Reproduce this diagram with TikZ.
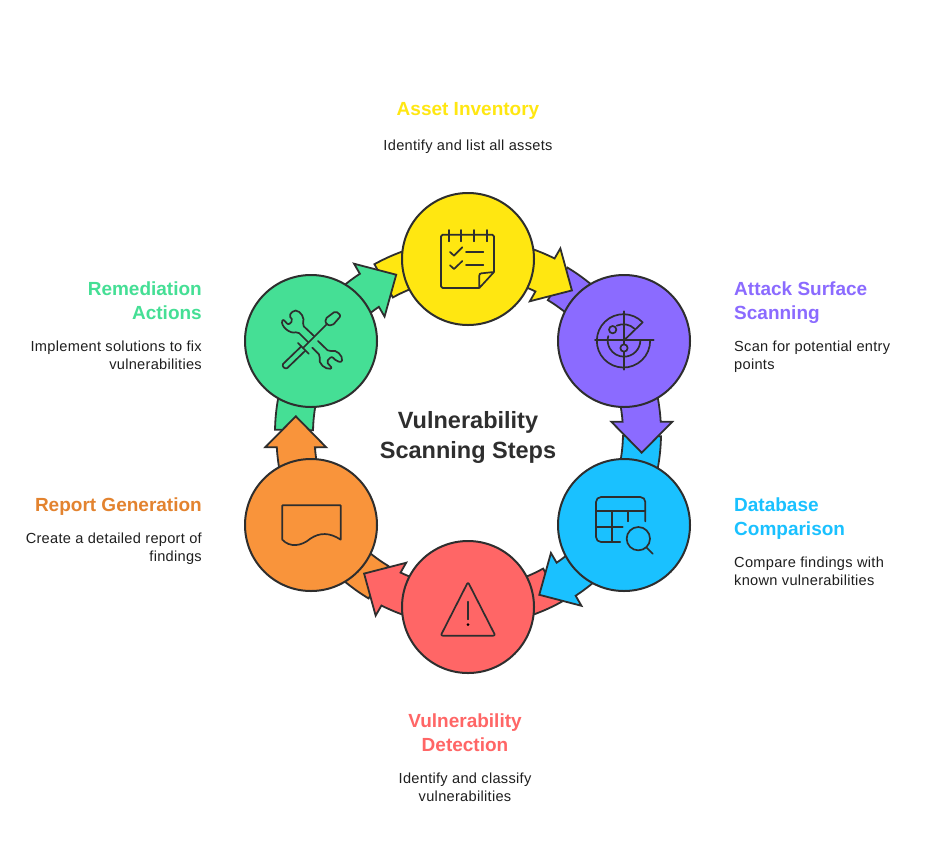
\documentclass[tikz,border=0pt]{standalone}
\usepackage{fontspec}
\setmainfont{Liberation Sans}
\newfontfamily\bodyface[LetterSpace=2]{Liberation Sans}
\definecolor{stroke}{HTML}{2E2E2E}
\definecolor{cyellow}{HTML}{FFE711}
\definecolor{cpurple}{HTML}{8B6BFF}
\definecolor{cblue}{HTML}{1AC1FF}
\definecolor{cred}{HTML}{FF6666}
\definecolor{corange}{HTML}{F9943B}
\definecolor{cgreen}{HTML}{45DF95}
\definecolor{torange}{HTML}{E3832F}
\definecolor{ttext}{HTML}{1F1F1F}
\tikzset{
  stepdisc/.style={circle,draw=stroke,line width=2pt,minimum size=132pt,inner sep=0pt,outer sep=0pt},
  shapeline/.style={draw=stroke,line width=1.8pt,line join=miter},
  iconline/.style={draw=stroke,line width=1.7pt,line cap=round,line join=round},
  headtext/.style={font=\bfseries\fontsize{19}{24}\selectfont,inner sep=0pt,anchor=north},
  bodytext/.style={font=\bodyface\fontsize{14.6}{18}\selectfont,text=ttext,inner sep=0pt,anchor=north},
  iconframe/.style={scale=1/3},
}
\newcommand{\ringband}[2]{%
  \filldraw[shapeline,fill=#1]
    ([shift={(ring)}]#2-29:193) arc[start angle=#2-29,end angle=#2,radius=193]
    -- ([shift={(ring)}]#2:155) arc[start angle=#2,end angle=#2-29,radius=155] -- cycle;}
\newcommand{\ringarrow}[3]{%
  \begin{scope}[rotate around={-#2:(ring)},shift={(#3)}]
  \filldraw[shapeline,fill=#1]
    ([shift={(ring)}]-20:155) arc[start angle=-20,end angle=-4.2,radius=155]
    -- (611.3,421.7) -- (641.7,452.7) -- (672.3,421.7) -- (660.7,421.7)
    arc[start angle=-3.4,end angle=-20,radius=193] -- cycle;
  \end{scope}}
\newcommand{\firstline}{\rule{0pt}{15pt}}
\newcommand{\firstbody}{\rule{0pt}{12pt}}
\begin{document}
\begin{tikzpicture}[x=1pt,y=-1pt]
\useasboundingbox (0,0) rectangle (936,841);
\fill[white] (0,0) rectangle (936,841);
\coordinate (ring) at (468,433);
% tails of the ring
\ringband{cpurple}{-30}
\ringband{cblue}{30}
\ringband{cred}{90}
\ringband{corange}{150}
\ringband{cgreen}{210}
\ringband{cyellow}{270}
% arrows
\ringarrow{cpurple}{0}{0,0}
\ringarrow{cblue}{60}{2.05,-0.55}
\ringarrow{cred}{120}{0,0}
\ringarrow{corange}{180}{-1.5,-3}
\ringarrow{cgreen}{240}{-0.73,-2.73}
\ringarrow{cyellow}{300}{1.73,-1}
% discs
\node[stepdisc,fill=cyellow] (asset) at (468,259) {};
\node[stepdisc,fill=cpurple] (attack) at (624,341) {};
\node[stepdisc,fill=cblue] (database) at (624,525) {};
\node[stepdisc,fill=cred] (detect) at (468,607) {};
\node[stepdisc,fill=corange] (report) at (311,525) {};
\node[stepdisc,fill=cgreen] (remedy) at (311,341) {};
% calendar icon
\begin{scope}[shift={(430,222)},iconframe]
  \draw[iconline] (148,198) -- (38,198) arc[start angle=90,end angle=180,radius=5] -- (33,43) arc[start angle=180,end angle=270,radius=5] -- (187,38) arc[start angle=270,end angle=360,radius=5] -- (192,150) -- (148,198) -- (148,160) arc[start angle=180,end angle=270,radius=6] -- (192,150);
  \foreach \x in {56,94,132,170} \draw[iconline] (\x,24) -- (\x,58);
  \draw[iconline] (60,90) -- (72,101) -- (97,76);
  \draw[iconline] (60,130) -- (72,141) -- (97,117);
  \draw[iconline] (108,91) -- (160,91);
  \draw[iconline] (108,128) -- (160,128);
\end{scope}
% radar icon
\begin{scope}[shift={(586,303)},iconframe]
  \draw[iconline] (27,112) -- (203,112);
  \draw[iconline] (114,25) -- (114,200);
  \draw[iconline] (114,112) -- (170,58) arc[start angle=-44,end angle=-360,radius=80];
  \draw[iconline] (163,112) arc[start angle=0,end angle=195,radius=49];
  \draw[iconline] (92,68) arc[start angle=-114,end angle=-46,radius=49];
  \filldraw[iconline,fill=cpurple] (114,135) circle[radius=11];
  \filldraw[iconline,fill=cpurple] (80,80) circle[radius=11];
\end{scope}
% table icon
\begin{scope}[shift={(586,487)},iconframe]
  \draw[iconline] (103,165) -- (45,165) arc[start angle=90,end angle=180,radius=15] -- (30,45) arc[start angle=180,end angle=270,radius=15] -- (163,30) arc[start angle=270,end angle=360,radius=15] -- (178,103);
  \draw[iconline] (30,72) -- (178,72);
  \draw[iconline] (30,120) -- (110,120);
  \draw[iconline] (78,72) -- (78,165);
  \draw[iconline] (127,72) -- (127,103);
  \draw[iconline] (157,155) circle[radius=35];
  \draw[iconline] (182,182) -- (200,200);
\end{scope}
% warning icon
\begin{scope}[shift={(430,570)},iconframe]
  \draw[iconline,rounded corners=2pt] (114,36) -- (196,197) -- (32,197) -- cycle;
  \draw[iconline] (114,95) -- (114,148);
  \fill[stroke] (114,164) circle[radius=4.5];
\end{scope}
% tools icon
\begin{scope}[shift={(273,303)},iconframe]
  \draw[iconline] (160,65) -- (90,135);
  \draw[iconline] (75,120) -- (107,152);
  \draw[iconline] (85,130) -- (30,183) .. controls (26,190) and (36,200) .. (43,195) -- (97,143);
  \draw[iconline,rounded corners=2pt] (178,68) -- (160,65) -- (156,48) -- (188,24) -- (204,38) -- cycle;
  \draw[iconline,rounded corners=2pt] (123,99) -- (88,66) .. controls (96,46) and (84,24) .. (62,22) -- (48,38) -- (60,52) -- (46,66) -- (30,48) .. controls (22,68) and (50,94) .. (74,86) -- (106,118);
  \draw[iconline,rounded corners=2pt] (135,114) -- (168,146) .. controls (190,138) and (210,158) .. (206,178) -- (190,174) -- (176,160) -- (160,176) -- (178,196) .. controls (158,200) and (134,182) .. (142,158) -- (118,134);
\end{scope}
% document icon
\begin{scope}[shift={(273,487)},iconframe]
  \draw[draw=stroke,line width=1.7pt,line join=round] (28,158) -- (28,55) -- (203,55) -- (203,158) .. controls (170,136) and (140,136) .. (112,155) .. controls (85,178) and (50,182) .. (28,158) -- cycle;
\end{scope}
% texts
\node[headtext,text=cyellow,align=center] (t1) at (468,100) {\firstline Asset Inventory};
\node[bodytext,align=center] (b1) at (468,138) {\firstbody Identify and list all assets};
\node[headtext,text=cpurple,align=left,anchor=north west] (t2) at (734,280) {\firstline Attack Surface\\Scanning};
\node[bodytext,align=left,anchor=north west] (b2) at (734,339) {\firstbody Scan for potential entry\\points};
\node[headtext,text=cblue,align=left,anchor=north west] (t3) at (734,496) {\firstline Database\\Comparison};
\node[bodytext,align=left,anchor=north west] (b3) at (734,555) {\firstbody Compare findings with\\known vulnerabilities};
\node[headtext,text=cred,align=center] (t4) at (465,712) {\firstline Vulnerability\\Detection};
\node[bodytext,align=center] (b4) at (465,771) {\firstbody Identify and classify\\vulnerabilities};
\node[headtext,text=torange,align=right,anchor=north east] (t5) at (202,496) {\firstline Report Generation};
\node[bodytext,align=right,anchor=north east] (b5) at (202,531) {\firstbody Create a detailed report of\\findings};
\node[headtext,text=cgreen,align=right,anchor=north east] (t6) at (202,280) {\firstline Remediation\\Actions};
\node[bodytext,align=right,anchor=north east] (b6) at (202,339) {\firstbody Implement solutions to fix\\vulnerabilities};
\node[font=\bfseries\fontsize{23.5}{30}\selectfont,text=stroke,align=center,inner sep=0pt,anchor=north] (center) at (468,408) {\rule{0pt}{20pt}Vulnerability\\Scanning Steps};
\end{tikzpicture}
\end{document}
